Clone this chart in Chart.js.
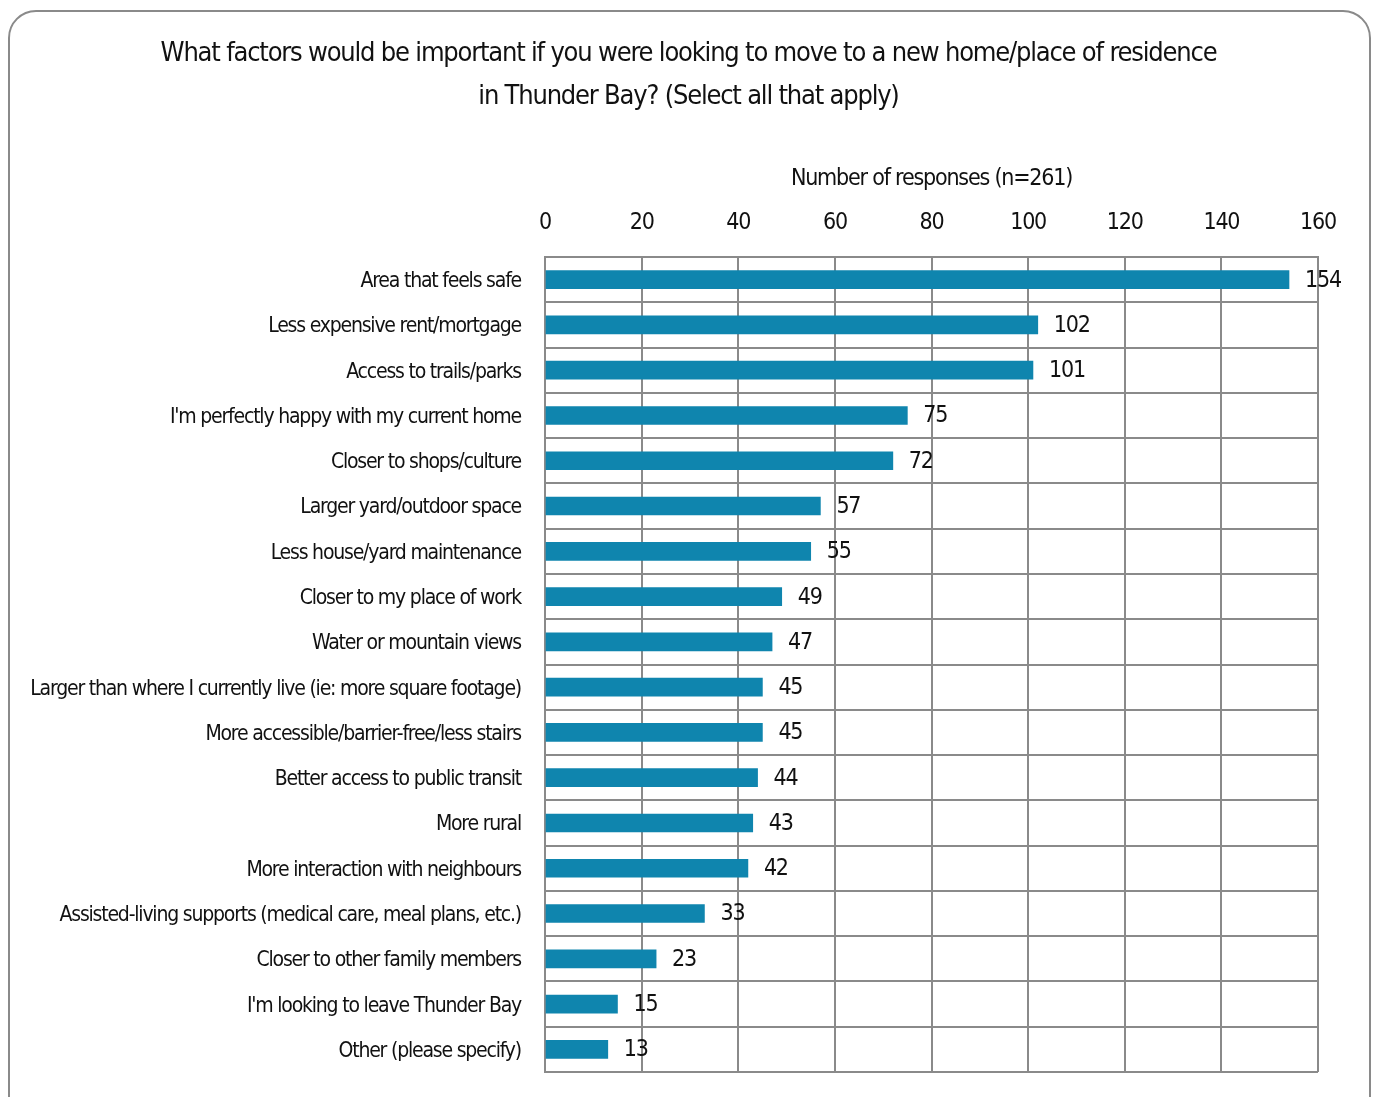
<!DOCTYPE html>
<html lang="en">

<head>
  <meta charset="UTF-8">
  <title>Moving factors - Thunder Bay</title>
  <script src="https://cdn.jsdelivr.net/npm/chart.js"></script>
  <style>
    body {
      margin: 0;
      background: #ffffff;
      overflow: hidden;
    }

    .frame {
      position: absolute;
      left: 8px;
      top: 10px;
      width: 1359px;
      height: 1130px;
      border: 2px solid #8a8a8a;
      border-radius: 28px;
    }

    #factorsChart {
      position: absolute;
      left: 0;
      top: 0;
    }
  </style>
</head>

<body>

  <div class="frame"></div>
  <canvas id="factorsChart" width="1377" height="1097"></canvas>

  <script>
    const FONT = "'DejaVu Sans Condensed', 'Liberation Sans Narrow', 'Roboto', sans-serif";

    const factors = [
      'Area that feels safe',
      'Less expensive rent/mortgage',
      'Access to trails/parks',
      "I'm perfectly happy with my current home",
      'Closer to shops/culture',
      'Larger yard/outdoor space',
      'Less house/yard maintenance',
      'Closer to my place of work',
      'Water or mountain views',
      'Larger than where I currently live (ie: more square footage)',
      'More accessible/barrier-free/less stairs',
      'Better access to public transit',
      'More rural',
      'More interaction with neighbours',
      'Assisted-living supports (medical care, meal plans, etc.)',
      'Closer to other family members',
      "I'm looking to leave Thunder Bay",
      'Other (please specify)'
    ];

    const responses = [154, 102, 101, 75, 72, 57, 55, 49, 47, 45, 45, 44, 43, 42, 33, 23, 15, 13];

    const xTicks = [0, 20, 40, 60, 80, 100, 120, 140, 160];

    // tighter letters so the long category names fit the left column
    const tightText = {
      id: 'tightText',
      beforeDraw(chart) {
        chart.ctx.letterSpacing = '-1.2px';
      }
    };

    // value printed just past the end of each bar
    const valueLabels = {
      id: 'valueLabels',
      afterDatasetsDraw(chart) {
        const ctx = chart.ctx;
        const meta = chart.getDatasetMeta(0);
        ctx.save();
        ctx.font = '23px ' + FONT;
        ctx.fillStyle = '#111';
        ctx.textAlign = 'left';
        ctx.textBaseline = 'middle';
        meta.data.forEach((bar, i) => {
          ctx.fillText(responses[i], bar.x + 16, bar.y + 1);
        });
        ctx.restore();
      }
    };

    new Chart(document.getElementById('factorsChart'), {
      type: 'bar',
      data: {
        labels: factors,
        datasets: [{
          data: responses,
          backgroundColor: '#0F85AE',
          borderWidth: 0,
          barThickness: 18
        }]
      },
      options: {
        indexAxis: 'y',
        responsive: false,
        animation: false,
        layout: {
          padding: { top: 0, right: 0, bottom: 25, left: 0 }
        },
        plugins: {
          legend: { display: false },
          tooltip: { enabled: false },
          title: {
            display: true,
            text: [
              'What factors would be important if you were looking to move to a new home/place of residence',
              'in Thunder Bay? (Select all that apply)'
            ],
            color: '#111',
            font: { family: FONT, size: 27, weight: 'normal', lineHeight: 1.6 },
            padding: { top: 32, bottom: 10 }
          }
        },
        scales: {
          x: {
            position: 'top',
            min: 0,
            max: 160,
            afterBuildTicks(scale) {
              scale.ticks = xTicks.map(v => ({ value: v }));
            },
            afterFit(scale) {
              scale.height = 128.6;
            },
            ticks: {
              color: '#111',
              padding: 20,
              font: { family: FONT, size: 23 }
            },
            grid: {
              color: '#8a8a8a',
              lineWidth: 2,
              drawTicks: false
            },
            border: { color: '#8a8a8a', width: 2 },
            title: {
              display: true,
              text: 'Number of responses (n=261)',
              color: '#111',
              font: { family: FONT, size: 23 },
              padding: { top: 37, bottom: 0 }
            }
          },
          y: {
            afterFit(scale) {
              scale.width = 545;
              scale.paddingTop = 0;
              scale.paddingBottom = 0;
            },
            ticks: {
              color: '#111',
              padding: 24,
              labelOffset: 2,
              font: { family: FONT, size: 21 }
            },
            grid: {
              color: '#8a8a8a',
              lineWidth: 2,
              drawTicks: false
            },
            border: { color: '#8a8a8a', width: 2 }
          },
          // empty right-hand margin so the title stays centred on the page
          rightGap: {
            type: 'linear',
            position: 'right',
            grid: { display: false },
            border: { display: false },
            ticks: { display: false },
            afterFit(scale) {
              scale.width = 59;
              scale.paddingTop = 0;
              scale.paddingBottom = 0;
            }
          }
        }
      },
      plugins: [tightText, valueLabels]
    });
  </script>

</body>

</html>
